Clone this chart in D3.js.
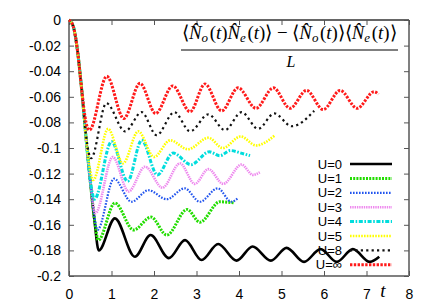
<!DOCTYPE html>
<html><head><meta charset="utf-8">
<script src="https://cdn.jsdelivr.net/npm/d3@7"></script>
<style>body{margin:0;background:#fff}svg{display:block}</style>
</head><body><svg id="c" width="436" height="306"></svg>
<script>
// ---- data ----
const labels = ["U=0","U=1","U=2","U=3","U=4","U=5","U=8","U=\u221e"];
const xTicks = [0,1,2,3,4,5,6,7,8];
const yTicks = [0,-0.02,-0.04,-0.06,-0.08,-0.1,-0.12,-0.14,-0.16,-0.18,-0.2];
const yTickLabels = ["0","-0.02","-0.04","-0.06","-0.08","-0.1","-0.12","-0.14","-0.16","-0.18","-0.2"];

const t_U0 = [0,0.1,0.2,0.3,0.4,0.5,0.6,0.7,1.08,1.55,1.92,2.35,2.73,3.12,3.51,3.94,4.32,4.75,5.12,5.53,5.92,6.3,6.68,7.08,7.3];
const v_U0 = [0,-0.005,-0.024,-0.055,-0.092,-0.126,-0.157,-0.180,-0.155,-0.185,-0.168,-0.186,-0.172,-0.1875,-0.175,-0.188,-0.177,-0.188,-0.178,-0.189,-0.179,-0.189,-0.179,-0.189,-0.185];
const t_U1 = [0,0.1,0.2,0.3,0.4,0.5,0.6,0.69,1.08,1.52,1.93,2.3,2.78,3.08,3.55,3.9];
const v_U1 = [0,-0.005,-0.024,-0.055,-0.092,-0.126,-0.156,-0.172,-0.143,-0.164,-0.154,-0.168,-0.148,-0.158,-0.142,-0.143];
const t_U2 = [0,0.1,0.2,0.3,0.4,0.5,0.6,0.67,1.06,1.47,1.87,2.3,2.72,3.08,3.5,3.82,3.98];
const v_U2 = [0,-0.005,-0.024,-0.055,-0.092,-0.126,-0.154,-0.164,-0.124,-0.142,-0.133,-0.140,-0.1315,-0.142,-0.1315,-0.142,-0.139];
const t_U3 = [0,0.1,0.2,0.3,0.4,0.5,0.62,1.03,1.4,1.79,2.2,2.61,2.96,3.28,3.63,4.06,4.33,4.49];
const v_U3 = [0,-0.005,-0.024,-0.055,-0.092,-0.126,-0.151,-0.107,-0.134,-0.1146,-0.131,-0.112,-0.128,-0.1165,-0.128,-0.113,-0.121,-0.119];
const t_U4 = [0,0.1,0.2,0.3,0.4,0.5,0.6,1.0,1.38,1.71,2.08,2.45,2.87,3.3,3.55,3.8,4.05,4.26];
const v_U4 = [0,-0.005,-0.024,-0.055,-0.092,-0.125,-0.140,-0.095,-0.126,-0.094,-0.121,-0.104,-0.113,-0.103,-0.106,-0.102,-0.104,-0.106];
const t_U5 = [0,0.1,0.2,0.3,0.4,0.5,0.57,0.92,1.27,1.63,2.0,2.38,2.8,3.28,3.62,4.04,4.4,4.85];
const v_U5 = [0,-0.005,-0.024,-0.055,-0.092,-0.118,-0.125,-0.085,-0.112,-0.087,-0.107,-0.094,-0.101,-0.092,-0.100,-0.091,-0.098,-0.090];
const t_U8 = [0,0.1,0.2,0.3,0.4,0.52,0.88,1.32,1.71,2.06,2.48,2.85,3.28,3.67,4.06,4.45,4.83,5.24,5.77];
const v_U8 = [0,-0.005,-0.024,-0.055,-0.09,-0.108,-0.065,-0.087,-0.072,-0.090,-0.072,-0.087,-0.0737,-0.086,-0.072,-0.085,-0.073,-0.083,-0.071];
const t_Uinf = [0,0.1,0.2,0.3,0.4,0.48,0.89,1.29,1.67,2.04,2.44,2.85,3.2,3.59,3.98,4.4,4.81,5.2,5.59,5.98,6.38,6.78,7.18,7.28];
const v_Uinf = [0,-0.005,-0.024,-0.055,-0.08,-0.086,-0.044,-0.077,-0.0495,-0.073,-0.0515,-0.0716,-0.050,-0.071,-0.053,-0.069,-0.053,-0.069,-0.055,-0.070,-0.055,-0.069,-0.056,-0.058];

const seriesT = [t_U0,t_U1,t_U2,t_U3,t_U4,t_U5,t_U8,t_Uinf];
const seriesV = [v_U0,v_U1,v_U2,v_U3,v_U4,v_U5,v_U8,v_Uinf];

// ---- styles ----
const colors = ["#000000","#22dd00","#2255ee","#ee88ee","#00dddd","#ffff00","#111111","#ff1a1a"];
const widths = [2.6,3,2.2,2.6,3,2.6,2.2,3];
const dashes = [null,"2,1.2","1.6,1.4","1.4,0.9","4,1.6,1.6,1.6","1.6,1.2","2.2,3.2","2.4,1.4"];
const SANS = "'Liberation Sans', Arial, sans-serif";
const SERIF = "'Liberation Serif', 'Times New Roman', serif";

const svg = d3.select("#c");
const L = 69, R = 409, T = 20, B = 276;
const x = d3.scaleLinear().domain([0,8]).range([L,R]);
const y = d3.scaleLinear().domain([-0.2,0]).range([B,T]);

// frame & ticks
const fr = svg.append("g");
fr.append("line").attr("x1",L).attr("x2",L).attr("y1",T).attr("y2",B).attr("stroke","#808080").attr("stroke-width",2);
fr.append("line").attr("x1",R).attr("x2",R).attr("y1",T).attr("y2",B).attr("stroke","#808080").attr("stroke-width",2);
fr.append("line").attr("x1",L).attr("x2",R).attr("y1",B).attr("y2",B).attr("stroke","#808080").attr("stroke-width",2);
fr.append("line").attr("x1",L).attr("x2",R).attr("y1",T).attr("y2",T).attr("stroke","#333").attr("stroke-width",1.6);

const xb = svg.append("g").attr("transform",`translate(0,${B})`)
  .call(d3.axisBottom(x).tickValues(xTicks).tickSize(-5).tickPadding(13).tickFormat(d3.format("d")));
const xt = svg.append("g").attr("transform",`translate(0,${T})`)
  .call(d3.axisTop(x).tickValues(xTicks).tickSize(-5).tickFormat(""));
const yl = svg.append("g").attr("transform",`translate(${L},0)`)
  .call(d3.axisLeft(y).tickValues(yTicks).tickSize(-5).tickPadding(8).tickFormat((d,i)=>yTickLabels[i]));
const yr = svg.append("g").attr("transform",`translate(${R},0)`)
  .call(d3.axisRight(y).tickValues(yTicks).tickSize(-5).tickFormat(""));
[xb,xt,yl,yr].forEach(g=>{
  g.select(".domain").remove();
  g.selectAll(".tick line").attr("stroke","#555").attr("stroke-width",1);
  g.selectAll("text").attr("fill","#000").style("font-family",SANS).attr("font-size",14);
});

// curves
const line = d3.line().x(d=>x(d[0])).y(d=>y(d[1])).curve(d3.curveMonotoneX);
seriesT.forEach((ts,i)=>{
  const pts = ts.map((t,j)=>[t,seriesV[i][j]]);
  const p = svg.append("path").attr("d",line(pts)).attr("fill","none")
    .attr("stroke",colors[i]).attr("stroke-width",widths[i]).attr("stroke-linejoin","round");
  if (dashes[i]) p.attr("stroke-dasharray",dashes[i]);
});

// legend
const legY0 = 164, legDy = 14.4;
labels.forEach((lab,i)=>{
  const yy = legY0 + i*legDy;
  svg.append("text").attr("x",342).attr("y",yy+4.5).attr("text-anchor","end")
    .style("font-family",SANS).attr("font-size",13).text(lab);
  const p = svg.append("line").attr("x1",350).attr("x2",392).attr("y1",yy).attr("y2",yy)
    .attr("stroke",colors[i]).attr("stroke-width",widths[i]);
  if (dashes[i]) p.attr("stroke-dasharray",dashes[i]);
});

// axis label t
svg.append("text").attr("x",383).attr("y",297).attr("text-anchor","middle")
  .style("font-family",SERIF).attr("font-style","italic").attr("font-size",19).text("t");

// title formula
const num = svg.append("text").attr("x",182).attr("y",39)
  .style("font-family",SERIF).attr("font-size",16);
function part(s, it){ num.append("tspan").attr("font-style",it?"italic":"normal").text(s); }
function sub(s){ num.append("tspan").attr("font-size",11).attr("font-style","italic").attr("dy",3).text(s);
                 num.append("tspan").attr("dy",-3).text("\u200a"); }
part("\u27e8"); part("N\u0302",true); sub("o"); part("("); part("t",true); part(")");
part("N\u0302",true); sub("e"); part("("); part("t",true); part(")\u27e9 \u2212 \u27e8");
part("N\u0302",true); sub("o"); part("("); part("t",true); part(")\u27e9\u27e8");
part("N\u0302",true); sub("e"); part("("); part("t",true); part(")\u27e9");
const w = num.node().getComputedTextLength();
if (w > 0) num.attr("font-size", 16*215/w).selectAll("tspan").filter(function(){return d3.select(this).attr("font-size");})
  .attr("font-size", 11*215/w);
svg.append("line").attr("x1",181).attr("x2",398).attr("y1",50).attr("y2",50).attr("stroke","#000").attr("stroke-width",1);
svg.append("text").attr("x",291).attr("y",67).attr("text-anchor","middle")
  .style("font-family",SERIF).attr("font-style","italic").attr("font-size",16).text("L");
</script></body></html>
